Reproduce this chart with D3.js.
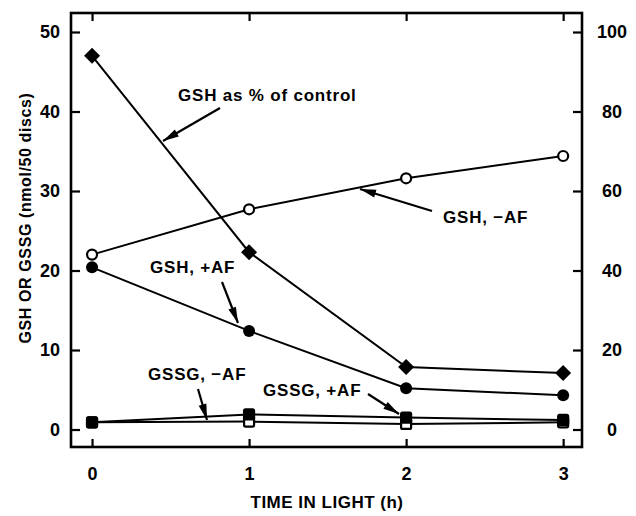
<!DOCTYPE html>
<html><head><meta charset="utf-8">
<script src="https://cdn.jsdelivr.net/npm/d3@7"></script>
<style>
body{margin:0;background:#fff;}
text{font-family:"Liberation Sans",Arial,sans-serif;font-weight:bold;fill:#000;}
</style></head>
<body><svg id="c" width="636" height="516"></svg>
<script>
// ---- data ----
const times = [0, 1, 2, 3];
const gshPctControl = [94, 44.6, 15.7, 14.2];   // right axis (%)
const gshMinusAF = [22.0, 27.7, 31.6, 34.4];    // left axis
const gshPlusAF = [20.4, 12.4, 5.2, 4.3];
const gssgMinusAF = [0.9, 1.0, 0.7, 0.9];
const gssgPlusAF = [0.9, 1.9, 1.5, 1.2];
const leftTicks = [0, 10, 20, 30, 40, 50];
const rightTicks = [0, 20, 40, 60, 80, 100];
const xTicks = [0, 1, 2, 3];

const svg = d3.select("#c");
const L = 71, R = 582, T = 13, B = 447;
const x = d3.scaleLinear().domain([-0.134, 3.12]).range([L, R]);
const yL = d3.scaleLinear().domain([-2.2, 52.39]).range([B, T]);
const yR = d3.scaleLinear().domain([-4.4, 104.78]).range([B, T]);

// axes
const fs = 18;
const gL = svg.append("g").attr("transform", `translate(${L},0)`)
  .call(d3.axisLeft(yL).tickValues(leftTicks).tickSizeInner(-9).tickSizeOuter(0).tickPadding(11));
const gR = svg.append("g").attr("transform", `translate(${R},0)`)
  .call(d3.axisRight(yR).tickValues(rightTicks).tickSizeInner(-9).tickSizeOuter(0).tickPadding(11));
const gB = svg.append("g").attr("transform", `translate(0,${B})`)
  .call(d3.axisBottom(x).tickValues(xTicks).tickFormat(d3.format("d")).tickSizeInner(-8).tickSizeOuter(0).tickPadding(20));
const gT = svg.append("g").attr("transform", `translate(0,${T})`)
  .call(d3.axisTop(x).tickValues(xTicks).tickSizeInner(-8).tickSizeOuter(0).tickFormat(""));
[gL, gR, gB, gT].forEach(g => {
  g.select(".domain").remove();
  g.selectAll("line").attr("stroke", "#000").attr("stroke-width", 2.2);
  g.selectAll("text").attr("font-size", fs).attr("font-family", "'Liberation Sans',Arial,sans-serif").attr("font-weight", "bold").attr("fill", "#000");
});
gR.selectAll("text").attr("text-anchor", "middle").attr("x", 30);

// frame
svg.append("rect").attr("x", L).attr("y", T).attr("width", R - L).attr("height", B - T)
  .attr("fill", "none").attr("stroke", "#000").attr("stroke-width", 2.6);

// lines
const line = (ys) => d3.line().x((d, i) => x(times[i])).y(d => ys(d));
function drawLine(vals, ys) {
  svg.append("path").datum(vals).attr("d", line(ys)).attr("fill", "none")
    .attr("stroke", "#000").attr("stroke-width", 2);
}
drawLine(gssgMinusAF, yL);
drawLine(gssgPlusAF, yL);
drawLine(gshPlusAF, yL);
drawLine(gshMinusAF, yL);
drawLine(gshPctControl, yR);

// markers
function squares(vals, filled) {
  svg.append("g").selectAll("rect").data(vals).join("rect")
    .attr("x", (d, i) => x(times[i]) - 5).attr("y", d => yL(d) - 5)
    .attr("width", 10).attr("height", 10).attr("rx", 1.5)
    .attr("fill", filled ? "#000" : "#fff").attr("stroke", "#000").attr("stroke-width", 2.2);
}
squares(gssgMinusAF, false);
squares(gssgPlusAF, true);
svg.append("g").selectAll("circle").data(gshPlusAF).join("circle")
  .attr("cx", (d, i) => x(times[i])).attr("cy", d => yL(d)).attr("r", 6).attr("fill", "#000");
svg.append("g").selectAll("circle").data(gshMinusAF).join("circle")
  .attr("cx", (d, i) => x(times[i])).attr("cy", d => yL(d)).attr("r", 5)
  .attr("fill", "#fff").attr("stroke", "#000").attr("stroke-width", 2.2);
svg.append("g").selectAll("path").data(gshPctControl).join("path")
  .attr("transform", (d, i) => `translate(${x(times[i])},${yR(d)})`)
  .attr("d", "M0,-8L8,0L0,8L-8,0Z").attr("fill", "#000");

// axis titles
svg.append("text").attr("x", 327).attr("y", 508).attr("text-anchor", "middle")
  .attr("font-size", 17).attr("letter-spacing", 0.5).text("TIME IN LIGHT (h)");
svg.append("text").attr("transform", "translate(31,218) rotate(-90)").attr("text-anchor", "middle")
  .attr("font-size", 16).attr("letter-spacing", 0.6).text("GSH OR GSSG (nmol/50 discs)");

// annotations
const labels = [
  {t: "GSH as % of control", x: 178, y: 101, ax1: 220, ay1: 108, ax2: 163, ay2: 141},
  {t: "GSH, \u2212AF", x: 443, y: 223, ax1: 432, ay1: 211, ax2: 360, ay2: 189},
  {t: "GSH, +AF", x: 150, y: 273, ax1: 222, ay1: 282, ax2: 238, ay2: 323},
  {t: "GSSG, \u2212AF", x: 148, y: 380, ax1: 198, ay1: 389, ax2: 207, ay2: 420},
  {t: "GSSG, +AF", x: 263, y: 396, ax1: 368, ay1: 394, ax2: 399, ay2: 414}
];
labels.forEach(l => {
  svg.append("text").attr("x", l.x).attr("y", l.y).attr("font-size", 17).attr("letter-spacing", 0.8).text(l.t);
  svg.append("line").attr("x1", l.ax1).attr("y1", l.ay1).attr("x2", l.ax2).attr("y2", l.ay2)
    .attr("stroke", "#000").attr("stroke-width", 2.2);
  const ang = Math.atan2(l.ay2 - l.ay1, l.ax2 - l.ax1) * 180 / Math.PI;
  svg.append("path").attr("transform", `translate(${l.ax2},${l.ay2}) rotate(${ang})`)
    .attr("d", "M0,0L-16,-4L-16,4Z").attr("fill", "#000");
});
</script></body></html>
